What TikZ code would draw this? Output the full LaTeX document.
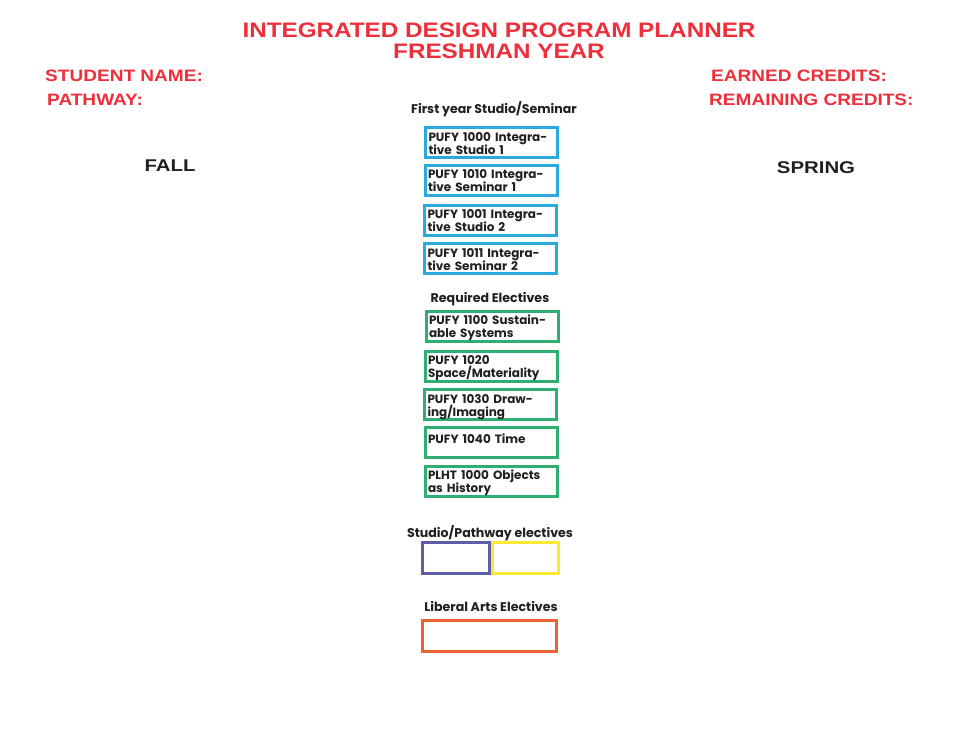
\documentclass[tikz,border=0pt]{standalone}
\usepackage{fontspec}
\setmainfont{Poppins}
\newfontfamily\widefont[FakeStretch=1.155]{Liberation Sans}
\newfontfamily\seasonfont[FakeStretch=1.2]{Liberation Sans}
\definecolor{hred}{HTML}{EE2E3A}
\definecolor{ink}{HTML}{231F20}
\definecolor{cblue}{HTML}{2AA9DF}
\definecolor{cgreen}{HTML}{2FAE72}
\definecolor{cpurple}{HTML}{5F5DA8}
\definecolor{cyellow}{HTML}{FDE834}
\definecolor{corange}{HTML}{EE6331}
\tikzset{
  heading/.style={text=hred, font=\widefont\bfseries\fontsize{16.5}{18}\selectfont, inner sep=0pt},
  season/.style={text=ink, font=\seasonfont\bfseries\fontsize{17}{18}\selectfont, inner sep=0pt},
  section/.style={text=ink, font=\bfseries\fontsize{12.6}{14}\selectfont, inner sep=0pt},
  cbox/.style={draw=#1, line width=3pt, minimum width=132pt, minimum height=30pt,
     text width=126pt, inner xsep=3pt, inner ysep=0pt, align=left, text=ink,
     text height=13.5pt, text depth=16.5pt,
     font=\bfseries\fontsize{12}{13}\selectfont},
  ebox/.style={draw=#1, line width=3pt, minimum height=31pt, inner sep=0pt},
}
\begin{document}
\begin{tikzpicture}[x=1pt,y=-1pt]
\useasboundingbox (0,0) rectangle (963,740);
\fill[white] (0,0) rectangle (963,740);
\node[text=hred, font=\widefont\bfseries\fontsize{21}{21}\selectfont, align=center, inner sep=0pt] (title) at (499,40.5) {INTEGRATED DESIGN PROGRAM PLANNER\\FRESHMAN YEAR};
\node[heading, anchor=west] (name) at (45,76) {STUDENT NAME:};
\node[heading, anchor=west] (path) at (47,100) {PATHWAY:};
\node[heading, anchor=west] (earned) at (711,76) {EARNED CREDITS:};
\node[heading, anchor=west] (remain) at (709,100) {REMAINING CREDITS:};
\node[season] (fall) at (170,166) {FALL};
\node[season] (spring) at (816,168) {SPRING};

\node[section] (sec1) at (494,109) {First year Studio/Seminar};
\node[cbox=cblue] (b1) at (491.5,142.5) {PUFY 1000 Integra-\\tive Studio 1};
\node[cbox=cblue] (b2) at (491,180) {PUFY 1010 Integra-\\tive Seminar 1};
\node[cbox=cblue] (b3) at (490.5,220) {PUFY 1001 Integra-\\tive Studio 2};
\node[cbox=cblue] (b4) at (490.5,258.5) {PUFY 1011 Integra-\\tive Seminar 2};

\node[section] (sec2) at (490,299) {Required Electives};
\node[cbox=cgreen] (g1) at (492,326) {PUFY 1100 Sustain-\\able Systems};
\node[cbox=cgreen] (g2) at (491,366) {PUFY 1020\\Space/Materiality};
\node[cbox=cgreen] (g3) at (490.5,404.5) {PUFY 1030 Draw-\\ing/Imaging};
\node[cbox=cgreen, text height=16.5pt, text depth=13.5pt] (g4) at (491,442) {PUFY 1040 Time};
\node[cbox=cgreen] (g5) at (491,481) {PLHT 1000 Objects\\as History};

\node[section] (sec3) at (490,533) {Studio/Pathway electives};
\node[ebox=cpurple, minimum width=67pt] (p1) at (456,558) {};
\node[ebox=cyellow, minimum width=66pt] (y1) at (525.5,558) {};

\node[section] (sec4) at (491,606) {Liberal Arts Electives};
\node[ebox=corange, minimum width=134pt] (o1) at (489.5,636) {};
\end{tikzpicture}
\end{document}
